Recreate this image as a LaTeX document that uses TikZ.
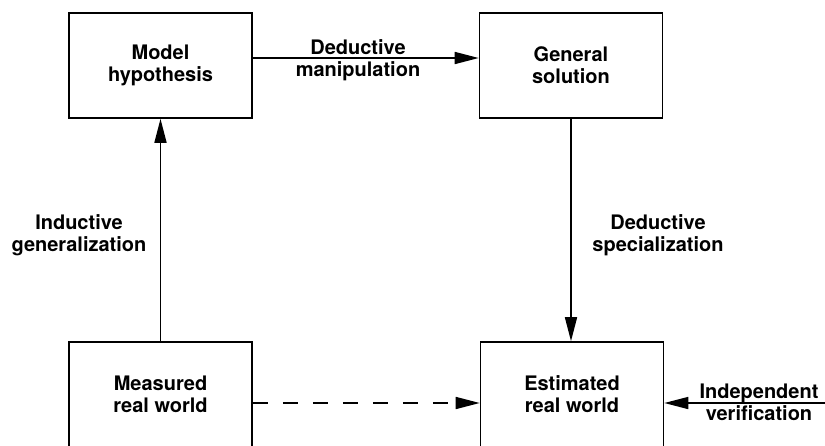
\documentclass[tikz,border=0pt]{standalone}
\usepackage{fontspec}
\setmainfont{TeX Gyre Heros}
\usetikzlibrary{arrows.meta}
\tikzset{
  box/.style={draw, line width=1.6pt, rectangle, minimum width=183pt, minimum height=105pt, inner sep=0pt, align=center, font=\fontsize{20}{22}\selectfont\bfseries},
  lbl/.style={align=center, inner sep=0pt, font=\fontsize{20}{22}\selectfont\bfseries},
  arr/.style={line width=1.6pt, -{Triangle[length=24pt,width=12pt]}},
  dsh/.style={arr, dash pattern=on 15pt off 15pt},
}
\begin{document}
\begin{tikzpicture}[x=1pt,y=-1pt]
\useasboundingbox (0,0) rectangle (825,445);
\clip (0,0) rectangle (825,445);
\node[box] (A) at (160.5,65.5) {Model\\hypothesis};
\node[box] (B) at (571,65.5) {General\\solution};
\node[box] (C) at (160.5,394.5) {Measured\\real world};
\node[box] (D) at (572,394.5) {Estimated\\real world};
\coordinate (iv) at (826,403);
\draw[arr] ([yshift=7.5pt]A.east) -- ([yshift=7.5pt]B.west);
\draw[arr] (C.north) -- (A.south);
\draw[arr] (B.south) -- (B.south |- D.north);
\draw[dsh] ([yshift=-8.5pt]C.east) -- ([yshift=-8.5pt]D.west);
\draw[arr] (iv) -- (D.east |- iv);
\node[lbl] (l1) at (358,60) {Deductive\\manipulation};
\node[lbl] (l2) at (79,235) {Inductive\\generalization};
\node[lbl] (l3) at (658,235) {Deductive\\specialization};
\node[lbl] (l4) at (759,402) {Independent\\verification};
\end{tikzpicture}
\end{document}
